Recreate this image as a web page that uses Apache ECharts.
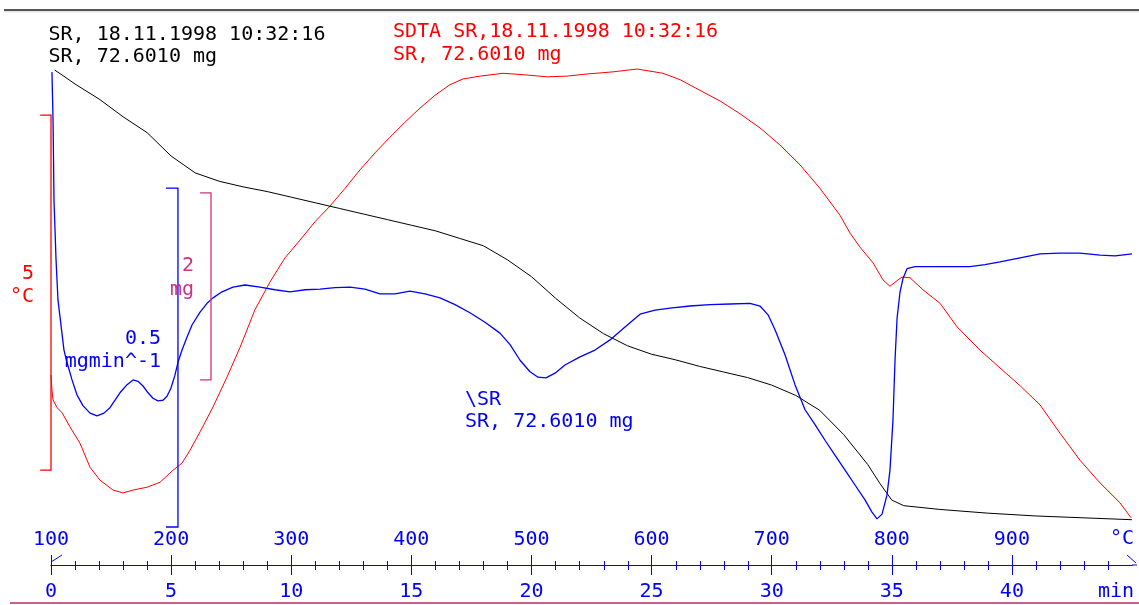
<!DOCTYPE html>
<html><head><meta charset="utf-8">
<script src="https://cdn.jsdelivr.net/npm/echarts@6/dist/echarts.min.js"></script>
<style>html,body{margin:0;padding:0;background:#fff}#c{width:1139px;height:605px}</style>
</head><body><div id="c"></div>
<script>
// ---- TGA (black): sample mass in mg vs furnace temperature in °C
const tgaTemp = [103,110,120,140,160,180,200,220,240,260,280,300,320,340,360,380,400,420,440,460,480,500,520,540,560,580,600,620,640,660,680,700,720,740,760,780,790,800,810,840,880,920,960,1000];
const tgaMass = [72.60,72.54,72.45,72.29,72.10,71.93,71.68,71.50,71.41,71.35,71.30,71.24,71.18,71.12,71.06,71.00,70.94,70.88,70.80,70.72,70.57,70.39,70.16,69.95,69.78,69.65,69.56,69.50,69.43,69.37,69.31,69.23,69.12,68.96,68.70,68.38,68.18,68.00,67.94,67.90,67.86,67.83,67.81,67.79];

// ---- DTG (blue): mg/min vs °C
const dtgTemp = [100.8,101.7,102.5,104.2,105.8,107.5,110.8,113.3,117.5,121.6,126.6,132.5,138.3,144.1,149.1,157.4,163.3,168.3,172.4,176.6,180.8,184.9,189.1,193.2,196.6,199.9,203.2,205.7,209.1,213.2,217.4,224.1,229.9,234.9,242.4,251.5,261.5,274.0,286.5,299.0,311.5,324.0,336.5,349.0,361.4,373.9,386.4,398.9,411.4,423.9,436.4,448.8,461.3,473.8,482.2,490.5,498.8,505.5,512.1,519.6,527.9,540.4,552.9,565.4,577.9,590.4,602.9,615.4,632.0,648.7,665.3,682.0,690.3,697.0,702.8,711.1,719.4,727.8,736.1,744.4,752.7,761.1,769.4,777.7,783.5,787.7,791.9,796.0,798.5,801.0,802.7,804.4,806.9,809.4,812.7,819.3,831.8,848.5,865.1,877.6,890.1,906.8,923.4,940.1,956.7,973.4,985.9,1000];
const dtgRate = [0.255,0.184,0.066,-0.022,-0.081,-0.106,-0.155,-0.173,-0.199,-0.221,-0.237,-0.248,-0.252,-0.248,-0.240,-0.218,-0.206,-0.199,-0.201,-0.208,-0.218,-0.226,-0.230,-0.229,-0.223,-0.211,-0.192,-0.173,-0.155,-0.136,-0.118,-0.099,-0.086,-0.078,-0.069,-0.062,-0.059,-0.062,-0.066,-0.069,-0.066,-0.065,-0.063,-0.062,-0.065,-0.072,-0.072,-0.068,-0.072,-0.078,-0.088,-0.100,-0.114,-0.130,-0.147,-0.170,-0.187,-0.195,-0.196,-0.189,-0.177,-0.165,-0.155,-0.140,-0.121,-0.102,-0.096,-0.093,-0.090,-0.088,-0.087,-0.086,-0.090,-0.103,-0.125,-0.162,-0.206,-0.243,-0.265,-0.288,-0.310,-0.332,-0.354,-0.376,-0.394,-0.404,-0.397,-0.369,-0.332,-0.258,-0.170,-0.108,-0.069,-0.049,-0.035,-0.032,-0.032,-0.032,-0.032,-0.029,-0.025,-0.019,-0.013,-0.012,-0.012,-0.015,-0.016,-0.013];

// ---- SDTA (red): °C vs °C
const sdtaTemp = [100,100.8,101.7,105,109.2,115.8,124.1,132.5,140.8,151.6,159.9,168.3,179.9,190.8,201.6,209.1,215.7,224.1,234.9,246.5,257.4,269.8,282.3,294.8,307.3,319.8,332.3,344.8,357.3,369.8,382.2,394.7,407.2,419.7,432.2,443.0,457.2,476.3,493.0,513.0,529.6,546.3,567.9,587.9,609.5,623.7,640.3,657.0,673.6,690.3,706.9,723.6,740.2,756.9,765.2,773.6,784.4,792.7,798.5,805.2,808.5,815.2,826.0,840.2,854.3,873.5,890.1,906.8,923.4,940.1,956.7,973.4,990.0,999.2];
const sdtaSignal = [1.76,1.55,1.41,1.30,1.23,1.03,0.80,0.46,0.28,0.14,0.10,0.14,0.18,0.25,0.42,0.52,0.70,0.96,1.31,1.73,2.15,2.68,3.07,3.41,3.66,3.92,4.14,4.39,4.65,4.89,5.11,5.32,5.52,5.70,5.85,5.93,5.97,6.01,5.99,5.96,5.97,6.00,6.03,6.07,6.01,5.92,5.77,5.62,5.44,5.24,5.00,4.72,4.39,4.01,3.76,3.56,3.34,3.10,3.01,3.10,3.14,3.13,2.96,2.77,2.44,2.11,1.86,1.61,1.34,0.94,0.56,0.24,-0.04,-0.25];

// ---- axes
const tempTicks = {min:100, max:1000, major:100};
const timeTicks = {min:0, max:45, major:5, minor:1};
const tgaRange = [67.68, 72.707];
const dtgRange = [-0.4204, 0.2729];
const sdtaRange = [-0.4225, 6.197];

// ---- scale bars (value spans)
const sdtaBar = {at:100, tick:91, from:0.42, span:5, axis:2};
const dtgBar  = {at:205.7, tick:195.7, from:-0.416, span:0.5, axis:1};
const tgaBar  = {at:233.2, tick:224.1, from:69.285, span:2, axis:0};

const FONT = 'DejaVu Sans Mono';
const BLUE='#0000ff', RED='#ff0000', BLACK='#000000', MAG='#cc3380';
const pairs = (xs, ys) => xs.map((x,i)=>[x, ys[i]]);

const chart = echarts.init(document.getElementById('c'));
function txt(s, x, y, color, align){
  return {type:'text', x:x, y:y, silent:true, z:100,
    style:{text:s, fill:color, font:'20px "'+FONT+'"', textAlign:align||'left', textVerticalAlign:'middle'}};
}
function ln(x1,y1,x2,y2,color,w){
  return {type:'line', silent:true, z:100, shape:{x1:x1,y1:y1,x2:x2,y2:y2}, style:{stroke:color, lineWidth:w||1}};
}
const lineSeries = (name, data, color, yIdx, width) => ({
  name:name, type:'line', data:data, xAxisIndex:0, yAxisIndex:yIdx, showSymbol:false, symbol:'none',
  lineStyle:{color:color, width:width||1}, clip:false, silent:true, animation:false
});
function xAxisDef(r, step, inside, tickLen, margin){
  return {type:'value', min:r.min, max:r.max, interval:step, position:'bottom', offset:35,
    axisLine:{show:true, onZero:false, lineStyle:{color:BLUE, width:1}},
    axisTick:{show:true, inside:inside, length:tickLen, lineStyle:{color:BLUE, width:1}},
    minorTick:{show:false},
    axisLabel:{show:true, inside:inside, margin:margin, color:BLUE, fontFamily:FONT, fontSize:20,
               showMaxLabel:false, showMinLabel:true, hideOverlap:false},
    splitLine:{show:false}, minorSplitLine:{show:false}};
}

const option = {
  animation:false,
  grid:{left:51, right:7, top:60, bottom:75, containLabel:false, outerBoundsMode:'none'},
  xAxis:[
    xAxisDef(tempTicks, tempTicks.major, true, 10, 15),
    xAxisDef(timeTicks, timeTicks.major, false, 10, 17)
  ],
  yAxis:[
    {type:'value', min:tgaRange[0], max:tgaRange[1], show:false, splitLine:{show:false}},
    {type:'value', min:dtgRange[0], max:dtgRange[1], show:false, splitLine:{show:false}},
    {type:'value', min:sdtaRange[0], max:sdtaRange[1], show:false, splitLine:{show:false}}
  ],
  series:[
    lineSeries('SDTA', pairs(sdtaTemp, sdtaSignal), RED, 2, 1),
    lineSeries('TGA', pairs(tgaTemp, tgaMass), BLACK, 0, 1),
    lineSeries('DTG', pairs(dtgTemp, dtgRate), BLUE, 1, 1.3)
  ]
};
chart.setOption(option);

function bracketGraphic(b, color){
  const f = {xAxisIndex:0, yAxisIndex:b.axis};
  const pts = [[b.tick,b.from+b.span],[b.at,b.from+b.span],[b.at,b.from],[b.tick,b.from]]
    .map(p => chart.convertToPixel(f, p));
  return {type:'polyline', silent:true, z:90, shape:{points:pts}, style:{stroke:color, lineWidth:1.3, fill:null}};
}
// minor minute ticks (crossing the axis line), placed through the time axis scale
const minorTicks = [];
const axisY = chart.getModel().getComponent('grid',0).coordinateSystem.getRect();
const lineY = Math.round(axisY.y + axisY.height + 35) + 0.5;
for (let m = timeTicks.min; m <= timeTicks.max; m += timeTicks.minor) {
  if (m % timeTicks.major === 0) continue;
  const px = Math.round(chart.convertToPixel({xAxisIndex:1}, m)) + 0.5;
  minorTicks.push(ln(px, lineY-4.5, px, lineY+4.5, BLUE, 1));
}

chart.setOption({graphic:[
  ln(4,10,1139,10,'#555555',2),
  ln(4,11.8,1139,11.8,'#d8d8d8',1),
  ln(10,603,1139,603,'#c8608c',2),
  ln(51,562,62,555,BLUE,1),
  ln(1132,565,1137,565,BLUE,1),
  ln(1127,555,1136,563,BLUE,1),
  ...minorTicks,
  bracketGraphic(sdtaBar, RED),
  bracketGraphic(dtgBar, BLUE),
  bracketGraphic(tgaBar, MAG),
  txt('SR, 18.11.1998 10:32:16', 48.5, 34.7, BLACK),
  txt('SR, 72.6010 mg', 48.5, 56.7, BLACK),
  txt('SDTA SR,18.11.1998 10:32:16', 393, 31.3, RED),
  txt('SR, 72.6010 mg', 393, 54.7, RED),
  txt('\\SR', 465, 400, BLUE),
  txt('SR, 72.6010 mg', 465, 421.7, BLUE),
  txt('5', 34, 274, RED, 'right'),
  txt('°C', 34, 297, RED, 'right'),
  txt('0.5', 161, 339, BLUE, 'right'),
  txt('mgmin^-1', 161, 362, BLUE, 'right'),
  txt('2', 194, 265.7, MAG, 'right'),
  txt('mg', 194, 290, MAG, 'right'),
  txt('°C', 1134, 539, BLUE, 'right'),
  txt('min', 1134, 592, BLUE, 'right')
]});
</script>
</body></html>
